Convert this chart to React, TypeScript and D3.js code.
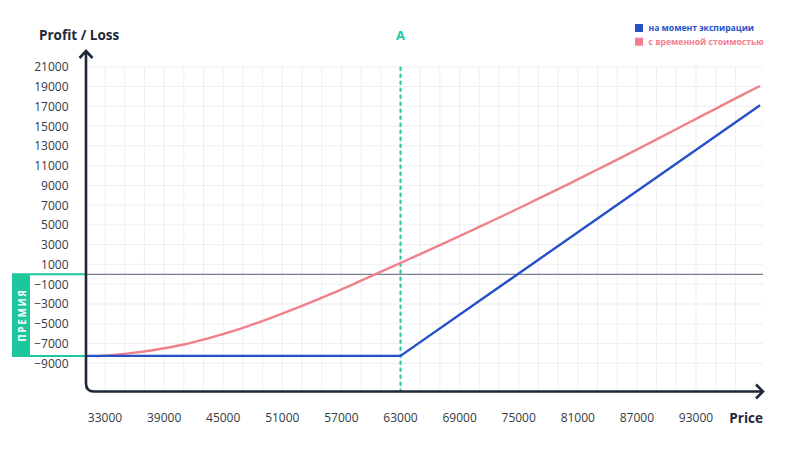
import React from "react";
import * as d3 from "d3";

const yTicks = [21000, 19000, 17000, 15000, 13000, 11000, 9000, 7000, 5000, 3000, 1000, -1000, -3000, -5000, -7000, -9000];
const xTicks = [33000, 39000, 45000, 51000, 57000, 63000, 69000, 75000, 81000, 87000, 93000];
const xGrid = d3.range(33000, 97001, 2000);
const strike = 63000;
const premium = -8250;

const expiryPrice = [31100, 63000, 99500];
const expiryPL = [-8250, -8250, 17100];

const timePrice = [32000, 35000, 38000, 41000, 44000, 47000, 50000, 53000, 56000, 59000, 62000, 65000, 68000, 71000, 74000, 77000, 80000, 83000, 86000, 89000, 92000, 95000, 98000, 99500];
const timePL = [-8300, -8050, -7650, -7100, -6330, -5420, -4350, -3200, -1960, -640, 700, 2050, 3400, 4800, 6200, 7650, 9100, 10600, 12100, 13650, 15200, 16750, 18300, 19050];

const legendLabels = ["на момент экспирации", "с временной стоимостью"];
const legendColors = ["#2450c8", "#f0808c"];

const FONT = "'Open Sans', sans-serif";
const AXIS = "#1f2838";

export default function App() {
  const x = d3.scaleLinear().domain([33000, 93000]).range([105, 696]);
  const y = d3.scaleLinear().domain([-9000, 21000]).range([363.3, 66.7]);

  const axX = 86;
  const axBottom = 391.5;
  const axRight = 763;
  const axTop = 51;
  const gridTop = y(21000);

  const line = d3.line<[number, number]>().x((d) => x(d[0])).y((d) => y(d[1]));
  const curve = d3
    .line<[number, number]>()
    .x((d) => x(d[0]))
    .y((d) => y(d[1]))
    .curve(d3.curveMonotoneX);

  const expiryData = expiryPrice.map((p, i) => [p, expiryPL[i]] as [number, number]);
  const timeData = timePrice.map((p, i) => [p, timePL[i]] as [number, number]);

  const r = 8;
  const axisPath = `M${axX},${axTop + 1} L${axX},${axBottom - r} Q${axX},${axBottom} ${axX + r},${axBottom} L${axRight - 1},${axBottom}`;

  return (
    <svg
      width={800}
      height={450}
      style={{ position: "absolute", left: 0, top: 0, background: "#fff" }}
      fontFamily={FONT}
    >
      {/* grid */}
      <g stroke="#efefef" strokeWidth={1}>
        {xGrid.map((v) => (
          <line key={"gx" + v} x1={x(v)} x2={x(v)} y1={gridTop} y2={axBottom} />
        ))}
        {yTicks.map((v) => (
          <line key={"gy" + v} x1={axX} x2={axRight} y1={y(v)} y2={y(v)} />
        ))}
      </g>

      {/* premium box */}
      <rect x={12} y={y(0)} width={18} height={y(premium) - y(0)} fill="#1cc79e" />
      <line x1={12} x2={axX} y1={y(0)} y2={y(0)} stroke="#1cc79e" strokeWidth={2} />
      <line x1={12} x2={axX} y1={y(premium)} y2={y(premium)} stroke="#1cc79e" strokeWidth={2} />
      <text
        transform={`translate(21.5,${(y(0) + y(premium)) / 2}) rotate(-90)`}
        textAnchor="middle"
        dominantBaseline="central"
        fill="#fff"
        fontSize={10}
        fontWeight={700}
        letterSpacing={1.6}
      >
        ПРЕМИЯ
      </text>

      {/* zero line */}
      <line x1={axX} x2={axRight} y1={y(0)} y2={y(0)} stroke="#76808e" strokeWidth={1.3} />

      {/* strike dashed line */}
      <line
        x1={x(strike)}
        x2={x(strike)}
        y1={gridTop}
        y2={axBottom}
        stroke="#1cc79e"
        strokeWidth={2}
        strokeDasharray="4 3"
      />
      <text x={x(strike)} y={40} textAnchor="middle" fill="#1cc79e" fontSize={13} fontWeight={700}>
        A
      </text>

      {/* series */}
      <path d={curve(timeData) || ""} fill="none" stroke={legendColors[1]} strokeWidth={2.4} />
      <path d={line(expiryData) || ""} fill="none" stroke={legendColors[0]} strokeWidth={2.4} />

      {/* axes */}
      <path d={axisPath} fill="none" stroke={AXIS} strokeWidth={2.6} />
      <path
        d={`M${axX - 6.5},${axTop + 7} L${axX},${axTop} L${axX + 6.5},${axTop + 7}`}
        fill="none"
        stroke={AXIS}
        strokeWidth={2.6}
      />
      <path
        d={`M${axRight - 7},${axBottom - 7} L${axRight},${axBottom} L${axRight - 7},${axBottom + 7}`}
        fill="none"
        stroke={AXIS}
        strokeWidth={2.6}
      />

      {/* y tick labels */}
      {yTicks.map((v) => (
        <text
          key={"ty" + v}
          x={68.5}
          y={y(v)}
          textAnchor="end"
          dominantBaseline="central"
          fontSize={12}
          fill="#333a44"
        >
          {v < 0 ? "\u2212" + Math.abs(v) : String(v)}
        </text>
      ))}

      {/* x tick labels */}
      {xTicks.map((v) => (
        <text
          key={"tx" + v}
          x={x(v)}
          y={417}
          textAnchor="middle"
          dominantBaseline="central"
          fontSize={12}
          fill="#333a44"
        >
          {v}
        </text>
      ))}

      {/* axis titles */}
      <text x={39} y={40} fontSize={13.5} fontWeight={700} fill={AXIS}>
        Profit / Loss
      </text>
      <text x={763} y={423} textAnchor="end" fontSize={13.5} fontWeight={700} fill={AXIS}>
        Price
      </text>

      {/* legend */}
      {legendLabels.map((l, i) => (
        <g key={l} transform={`translate(635,${24 + i * 13.7})`}>
          <rect x={0} y={0} width={8} height={8} fill={legendColors[i]} />
          <text x={13.5} y={4} dominantBaseline="central" fontSize={8.6} fontWeight={700} fill={legendColors[i]}>
            {l}
          </text>
        </g>
      ))}
    </svg>
  );
}
